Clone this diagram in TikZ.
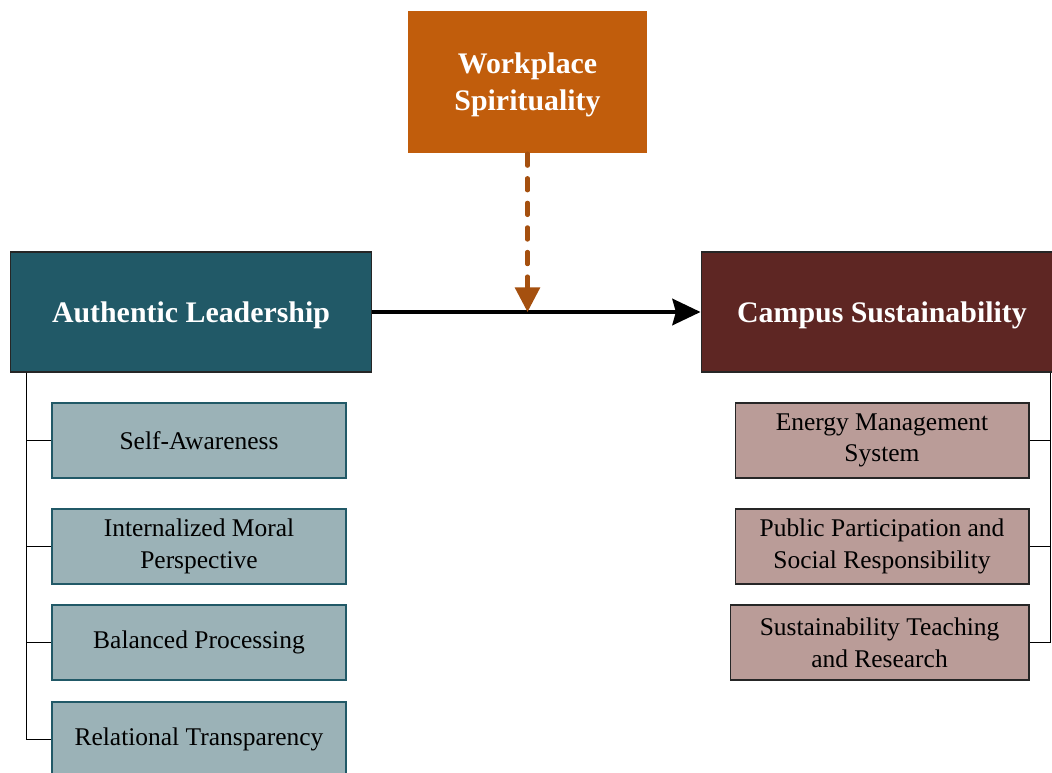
\documentclass[tikz,border=0pt]{standalone}
\usepackage{fontspec}
\setmainfont{Liberation Serif}
\usetikzlibrary{arrows.meta}

\definecolor{wsorange}{HTML}{C15D0C}
\definecolor{wsdash}{HTML}{A5500F}
\definecolor{alteal}{HTML}{215967}
\definecolor{allight}{HTML}{9BB2B7}
\definecolor{csmaroon}{HTML}{5E2623}
\definecolor{cslight}{HTML}{BA9C98}

\begin{document}
\begin{tikzpicture}
[x=0.02cm,y=-0.02cm,
 headbox/.style={rectangle,draw=black!85,line width=0.6pt,text=white,inner sep=0pt,text depth=0pt,align=center,font=\fontsize{17}{21}\selectfont\bfseries,minimum height=2.4cm},
 alsub/.style={rectangle,draw=alteal,fill=allight,line width=1.1pt,inner sep=0pt,align=center,minimum width=5.88cm,minimum height=1.5cm,font=\fontsize{14.5}{18}\selectfont},
 cssub/.style={rectangle,draw=black!85,fill=cslight,line width=0.6pt,inner sep=0pt,align=center,minimum width=5.88cm,minimum height=1.5cm,font=\fontsize{14.5}{18}\selectfont},
 branch/.style={draw=black,line width=0.8pt}]

\useasboundingbox (0,0) rectangle (1052,773);

\node (ws) at (527.5,82) [headbox,draw=none,fill=wsorange,minimum width=4.78cm,minimum height=2.84cm] {Workplace\\Spirituality};
\node (al) at (191,312) [headbox,fill=alteal,minimum width=7.24cm] {Authentic Leadership};
\node (cs) at (882,312) [headbox,fill=csmaroon,minimum width=7.24cm] {Campus Sustainability};

\node (al1) at (199,440.5) [alsub] {Self-Awareness};
\node (al2) at (199,546.5) [alsub] {Internalized Moral\\Perspective};
\node (al3) at (199,642.5) [alsub] {Balanced Processing};
\node (al4) at (199,739.5) [alsub] {Relational Transparency};

\node (cs1) at (882,440.5) [cssub] {Energy Management\\System};
\node (cs2) at (882,546.5) [cssub] {Public Participation and\\Social Responsibility};
\node (cs3) at (879.5,642.5) [cssub,minimum width=5.98cm] {Sustainability Teaching\\and Research};

\coordinate (mid) at (ws.south |- al.east);

\draw [line width=2.3pt,-{Stealth[length=16pt,width=15pt,inset=2pt]}] (al.east) -- (cs.west);
\draw [wsdash,line width=2.3pt,line cap=round,dash pattern=on 7pt off 7pt,-{Triangle[length=14pt,width=14pt]}] (ws.south) -- (mid);

\foreach \to in {al1,al2,al3,al4}
	\draw [branch] ([xshift=0.34cm]al.south west) |- (\to.west);

\foreach \to in {cs1,cs2,cs3}
	\draw [branch] ([xshift=-0.26cm]cs.south east) |- (\to.east);

\end{tikzpicture}
\end{document}
